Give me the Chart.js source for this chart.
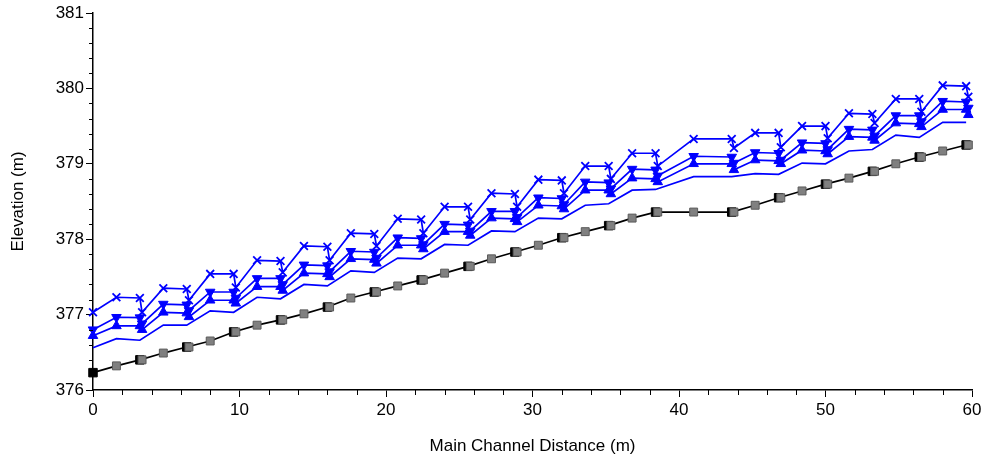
<!DOCTYPE html>
<html>
<head>
<meta charset="utf-8">
<script src="https://cdn.jsdelivr.net/npm/chart.js@4.4.1/dist/chart.umd.min.js"></script>
<style>
  html, body { margin: 0; padding: 0; background: #fff; }
  canvas { display: block; }
</style>
</head>
<body>
<canvas id="profileChart" width="990" height="457"></canvas>
<script>
// ground nodes along the main channel (m)
const nodeX = [0, 1.6, 3.2, 4.8, 6.4, 8.0, 9.6, 11.2, 12.8, 14.4, 16.0, 17.6, 19.2,
  20.8, 22.4, 24.0, 25.6, 27.2, 28.8, 30.4, 32.0, 33.6, 35.2, 36.8, 38.4, 41.0, 43.6,
  45.2, 46.8, 48.4, 50.0, 51.6, 53.2, 54.8, 56.4, 58.0, 59.6];

// each structure node (even index) has a second point just downstream of it
const dropOffset = 0.15;

const groundElev = [376.23, 376.32, 376.40, 376.49, 376.57, 376.65, 376.77, 376.86, 376.93,
  377.01, 377.10, 377.22, 377.30, 377.38, 377.46, 377.55, 377.64, 377.74, 377.83, 377.92,
  378.02, 378.10, 378.18, 378.28, 378.36, 378.36, 378.36, 378.45, 378.55, 378.64, 378.73,
  378.81, 378.90, 379.00, 379.09, 379.17, 379.25];

const plainElev = [376.56, 376.68, 376.66, 376.86, 376.86, 377.05, 377.03, 377.23, 377.21,
  377.40, 377.38, 377.58, 377.56, 377.75, 377.74, 377.93, 377.92, 378.11, 378.10, 378.28,
  378.27, 378.45, 378.47, 378.65, 378.66, 378.83, 378.83, 378.87, 378.86, 379.01, 379.00,
  379.17, 379.19, 379.38, 379.35, 379.55, 379.55];

// profile series: node, node, node + drop, ...
const crossElev = [377.03,
  377.23, 377.22, 377.03, 377.35, 377.34, 377.19, 377.54, 377.54, 377.36,
  377.72, 377.71, 377.56, 377.91, 377.90, 377.72, 378.08, 378.07, 377.91,
  378.27, 378.26, 378.08, 378.43, 378.43, 378.26, 378.61, 378.60, 378.43,
  378.79, 378.78, 378.61, 378.97, 378.97, 378.80, 379.14, 379.14, 378.97,
  379.33, 379.33, 379.21, 379.41, 379.41, 379.22, 379.50, 379.50, 379.34,
  379.67, 379.66, 379.54, 379.86, 379.86, 379.69, 380.04, 380.03, 379.89];

const downElev = [376.80,
  376.965, 376.96, 376.88, 377.14, 377.13, 377.055, 377.30, 377.30, 377.22,
  377.48, 377.48, 377.40, 377.66, 377.65, 377.57, 377.84, 377.83, 377.75,
  378.02, 378.01, 377.93, 378.20, 378.19, 378.11, 378.37, 378.37, 378.29,
  378.55, 378.54, 378.46, 378.76, 378.75, 378.67, 378.93, 378.92, 378.84,
  379.10, 379.09, 379.01, 379.15, 379.14, 379.05, 379.28, 379.27, 379.19,
  379.46, 379.45, 379.37, 379.64, 379.64, 379.56, 379.83, 379.82, 379.74];

const upElev = [376.72,
  376.85, 376.85, 376.80, 377.03, 377.02, 376.97, 377.19, 377.19, 377.15,
  377.37, 377.37, 377.32, 377.55, 377.54, 377.50, 377.74, 377.73, 377.68,
  377.92, 377.92, 377.87, 378.10, 378.10, 378.05, 378.28, 378.27, 378.23,
  378.45, 378.44, 378.40, 378.65, 378.65, 378.60, 378.81, 378.80, 378.76,
  379.00, 379.00, 378.92, 379.05, 379.04, 379.00, 379.18, 379.17, 379.13,
  379.36, 379.35, 379.31, 379.54, 379.53, 379.49, 379.72, 379.72, 379.65];

const xRange = [0, 60];
const yRange = [376, 381];
const xMajorStep = 10;
const xMinorStep = 2;
const yMajorStep = 1;
const yMinorStep = 0.2;

const blue = "#0000ff";
const fontSpec = { family: "'Liberation Sans', Arial, sans-serif", size: 17 };

const profileX = [];
nodeX.forEach((x, i) => {
  profileX.push(x);
  if (i > 0 && i % 2 === 0) {
    profileX.push(x + dropOffset);
  }
});

function toPoints(xs, ys) {
  return ys.map((y, i) => ({ x: xs[i], y }));
}

const blackMarks = [];
const grayMarks = [];
nodeX.forEach((x, i) => {
  if (i === 0 || i % 2 === 0) {
    blackMarks.push({ x, y: groundElev[i] });
  }
  if (i > 0) {
    grayMarks.push({ x: i % 2 === 0 ? x + dropOffset : x, y: groundElev[i] });
  }
});

const minorTicks = {
  id: "minorTicks",
  afterDraw(chart) {
    const { ctx, scales: { x, y } } = chart;
    const left = chart.chartArea.left;
    const bottom = chart.chartArea.bottom;
    ctx.save();
    ctx.strokeStyle = "#000";
    ctx.lineWidth = 1;
    ctx.beginPath();
    const yCount = Math.round((yRange[1] - yRange[0]) / yMinorStep);
    for (let i = 0; i <= yCount; i++) {
      if (i % Math.round(yMajorStep / yMinorStep) === 0) continue;
      const py = Math.round(y.getPixelForValue(yRange[0] + i * yMinorStep)) + 0.5;
      ctx.moveTo(left - 4, py);
      ctx.lineTo(left, py);
    }
    const xCount = Math.round((xRange[1] - xRange[0]) / xMinorStep);
    for (let i = 0; i <= xCount; i++) {
      if (i % Math.round(xMajorStep / xMinorStep) === 0) continue;
      const px = Math.round(x.getPixelForValue(xRange[0] + i * xMinorStep)) + 0.5;
      ctx.moveTo(px, bottom);
      ctx.lineTo(px, bottom + 5);
    }
    ctx.stroke();
    ctx.restore();
  },
};

new Chart(document.getElementById("profileChart"), {
  type: "line",
  data: {
    datasets: [
      {
        data: grayMarks,
        showLine: false,
        pointStyle: "rect",
        pointRadius: 5.6,
        pointBackgroundColor: "#808080",
        pointBorderColor: "#5a5a5a",
        pointBorderWidth: 1,
        order: 0,
      },
      {
        data: blackMarks,
        showLine: false,
        pointStyle: "rect",
        pointRadius: 6,
        pointBackgroundColor: "#000",
        pointBorderColor: "#000",
        pointBorderWidth: 1,
        order: 1,
      },
      {
        data: toPoints(nodeX, groundElev),
        borderColor: "#000",
        borderWidth: 1.7,
        pointRadius: 0,
        order: 2,
      },
      {
        data: toPoints(profileX, crossElev),
        borderColor: blue,
        borderWidth: 1.7,
        pointStyle: "crossRot",
        pointRadius: 5.5,
        pointBorderColor: blue,
        pointBorderWidth: 1.8,
        order: 3,
      },
      {
        data: toPoints(profileX, downElev),
        borderColor: blue,
        borderWidth: 1.7,
        pointStyle: "triangle",
        pointRotation: 180,
        pointRadius: 5.5,
        pointBackgroundColor: blue,
        pointBorderColor: blue,
        pointBorderWidth: 1,
        order: 4,
      },
      {
        data: toPoints(profileX, upElev),
        borderColor: blue,
        borderWidth: 1.7,
        pointStyle: "triangle",
        pointRadius: 5.5,
        pointBackgroundColor: blue,
        pointBorderColor: blue,
        pointBorderWidth: 1,
        order: 5,
      },
      {
        data: toPoints(nodeX, plainElev),
        borderColor: blue,
        borderWidth: 1.7,
        pointRadius: 0,
        order: 6,
      },
    ],
  },
  options: {
    responsive: false,
    animation: false,
    devicePixelRatio: 1,
    clip: false,
    layout: { padding: { top: 13, right: 18, left: 0, bottom: 0 } },
    plugins: {
      legend: { display: false },
      tooltip: { enabled: false },
    },
    elements: { line: { tension: 0 } },
    scales: {
      x: {
        type: "linear",
        min: xRange[0],
        max: xRange[1],
        afterFit(scale) { scale.height = 67; },
        border: { display: true, color: "#000", width: 1.5 },
        grid: { drawOnChartArea: false, drawTicks: true, tickLength: 7, tickColor: "#000", tickWidth: 1 },
        ticks: { stepSize: xMajorStep, color: "#000", font: fontSpec, padding: 3, maxRotation: 0 },
        title: {
          display: true,
          text: "Main Channel Distance (m)",
          color: "#000",
          font: fontSpec,
          padding: { top: 0, bottom: 0 },
        },
      },
      y: {
        type: "linear",
        min: yRange[0],
        max: yRange[1],
        afterFit(scale) { scale.width = 93; },
        border: { display: true, color: "#000", width: 1.5 },
        grid: { drawOnChartArea: false, drawTicks: true, tickLength: 7, tickColor: "#000", tickWidth: 1 },
        ticks: { stepSize: yMajorStep, color: "#000", font: fontSpec, padding: 2 },
        title: {
          display: true,
          text: "Elevation (m)",
          color: "#000",
          font: fontSpec,
          padding: { top: 8, bottom: 0 },
        },
      },
    },
  },
  plugins: [minorTicks],
});
</script>
</body>
</html>
